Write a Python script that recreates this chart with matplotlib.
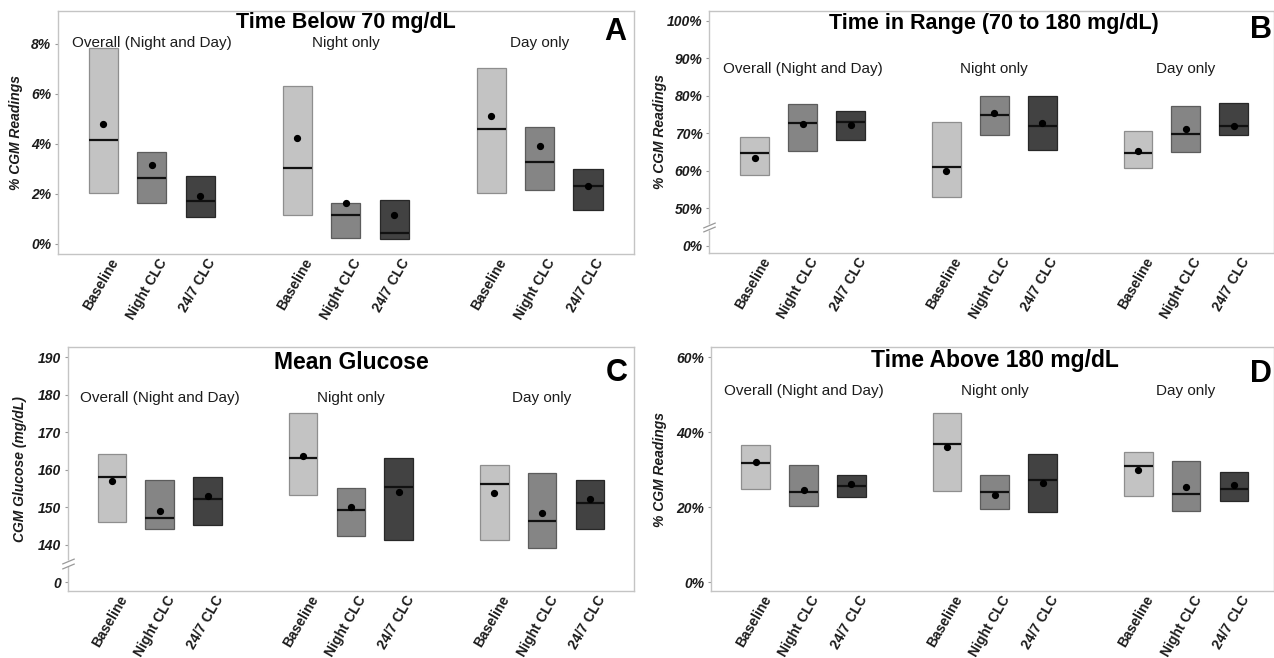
import matplotlib
matplotlib.use("Agg")
import matplotlib.pyplot as plt
from matplotlib import transforms
from matplotlib.path import Path

plt.rcParams['font.family'] = ['Liberation Sans', 'DejaVu Sans']

# ---------------- data ----------------
groups = ["Overall (Night and Day)", "Night only", "Day only"]
conditions = ["Baseline", "Night CLC", "24/7 CLC"]

# Panel A: Time below 70 mg/dL (%)
a_lower = [2.02, 1.65, 1.09, 1.16, 0.25, 0.21, 2.05, 2.14, 1.36]
a_upper = [7.84, 3.66, 2.72, 6.31, 1.62, 1.74, 7.03, 4.67, 3.00]
a_median = [4.14, 2.64, 1.70, 3.05, 1.15, 0.45, 4.61, 3.28, 2.33]
a_mean = [4.81, 3.16, 1.92, 4.22, 1.62, 1.15, 5.11, 3.91, 2.30]
a_yticks = [0, 2, 4, 6, 8]
a_yticklabels = ["0%", "2%", "4%", "6%", "8%"]

# Panel B: Time in range 70-180 mg/dL (%)
b_lower = [58.8, 65.2, 68.1, 53.1, 69.4, 65.6, 60.7, 65.0, 69.4]
b_upper = [69.1, 77.7, 75.9, 73.1, 79.8, 79.8, 70.6, 77.2, 78.0]
b_median = [64.7, 72.8, 72.9, 60.9, 74.9, 71.8, 64.7, 69.7, 71.9]
b_mean = [63.4, 72.5, 72.3, 59.9, 75.3, 72.8, 65.2, 71.0, 72.0]
b_yticks = [40, 50, 60, 70, 80, 90, 100]
b_yticklabels = ["0%", "50%", "60%", "70%", "80%", "90%", "100%"]

# Panel C: Mean glucose (mg/dL)
c_lower = [146.1, 144.1, 145.2, 153.2, 142.2, 141.2, 141.2, 139.1, 144.2]
c_upper = [164.2, 157.2, 158.1, 175.2, 155.1, 163.2, 161.3, 159.2, 157.1]
c_median = [158.1, 147.2, 152.1, 163.2, 149.2, 155.3, 156.1, 146.2, 151.1]
c_mean = [157.0, 148.9, 152.9, 163.5, 150.1, 153.9, 153.8, 148.4, 152.2]
c_yticks = [130, 140, 150, 160, 170, 180, 190]
c_yticklabels = ["0", "140", "150", "160", "170", "180", "190"]

# Panel D: Time above 180 mg/dL (%)
d_lower = [24.7, 20.4, 22.6, 24.2, 19.4, 18.8, 22.9, 19.0, 21.6]
d_upper = [36.6, 31.1, 28.5, 45.2, 28.5, 34.2, 34.8, 32.4, 29.4]
d_median = [31.7, 23.9, 25.5, 36.8, 24.0, 27.3, 30.9, 23.6, 24.7]
d_mean = [31.9, 24.6, 26.1, 36.0, 23.3, 26.3, 30.0, 25.4, 26.0]
d_yticks = [0, 20, 40, 60]
d_yticklabels = ["0%", "20%", "40%", "60%"]

fills = ['#c3c3c3', '#858585', '#424242']
edges = ['#8e8e8e', '#5c5c5c', '#282828']
txt = '#1c1c1c'

panels = [
    dict(rect=[0.0453, 0.614, 0.4524, 0.370], lower=a_lower, upper=a_upper,
         median=a_median, mean=a_mean, yticks=a_yticks, ytl=a_yticklabels,
         ylim=(-0.4, 9.33), xlim=(-0.94, 10.95), ylabel="% CGM Readings",
         ylx=-0.061, title="Time Below 70 mg/dL", ty=0.928, ts=15.5,
         letter="A", ly=0.877, gy=0.852, brk=False),
    dict(rect=[0.5565, 0.6155, 0.4435, 0.3683], lower=b_lower, upper=b_upper,
         median=b_median, mean=b_mean, yticks=b_yticks, ytl=b_yticklabels,
         ylim=(38.05, 102.67), xlim=(-0.955, 10.84), ylabel="% CGM Readings",
         ylx=-0.0746, title="Time in Range (70 to 180 mg/dL)", ty=0.923, ts=15.5,
         letter="B", ly=0.886, gy=0.742, brk=True),
    dict(rect=[0.0534, 0.1018, 0.4443, 0.3708], lower=c_lower, upper=c_upper,
         median=c_median, mean=c_mean, yticks=c_yticks, ytl=c_yticklabels,
         ylim=(127.6, 192.67), xlim=(-0.92, 10.925), ylabel="CGM Glucose (mg/dL)",
         ylx=-0.0733, title="Mean Glucose", ty=0.909, ts=16.5,
         letter="C", ly=0.86, gy=0.775, brk=True),
    dict(rect=[0.558, 0.1018, 0.442, 0.3708], lower=d_lower, upper=d_upper,
         median=d_median, mean=d_mean, yticks=d_yticks, ytl=d_yticklabels,
         ylim=(-2.4, 62.67), xlim=(-0.94, 10.84), ylabel="% CGM Readings",
         ylx=-0.0774, title="Time Above 180 mg/dL", ty=0.919, ts=16.5,
         letter="D", ly=0.858, gy=0.803, brk=False),
]

fig = plt.figure(figsize=(12.74, 6.58), dpi=100)

positions = [g * 4 + c for g in range(len(groups)) for c in range(len(conditions))]
cond_idx = [c for g in range(len(groups)) for c in range(len(conditions))]
group_centers = [g * 4 + (len(conditions) - 1) / 2 for g in range(len(groups))]
labels = [conditions[c] for c in cond_idx]
bw = 0.6

slash = Path([(-1.0, -0.42), (1.0, 0.42)], [Path.MOVETO, Path.LINETO])

for p in panels:
    ax = fig.add_axes(p['rect'])
    heights = [u - l for u, l in zip(p['upper'], p['lower'])]
    ax.bar(positions, heights, bottom=p['lower'], width=bw,
           color=[fills[c] for c in cond_idx], edgecolor=[edges[c] for c in cond_idx],
           linewidth=0.9, zorder=2)
    ax.hlines(p['median'], [x - bw / 2 for x in positions], [x + bw / 2 for x in positions],
              colors='#111111', linewidth=1.6, zorder=3)
    ax.plot(positions, p['mean'], 'o', color='black', markersize=4.2, zorder=4)

    ax.set_xlim(*p['xlim'])
    ax.set_ylim(*p['ylim'])
    ax.set_yticks(p['yticks'])
    ax.set_yticklabels(p['ytl'], fontsize=10, fontweight='bold', fontstyle='italic', color=txt)
    ax.set_xticks(positions)
    ax.set_xticklabels([])
    ax.tick_params(axis='x', length=0)
    ax.tick_params(axis='y', length=2.2, width=0.8, color='#9a9a9a', pad=2.5)
    for s in ax.spines.values():
        s.set_color('#c4c4c4')
        s.set_linewidth(1.0)

    # rotated category labels (ggplot-style placement)
    bt = transforms.blended_transform_factory(ax.transData, ax.transAxes)
    lab_t = bt + transforms.ScaledTranslation(0.123, -0.06, fig.dpi_scale_trans)
    for x, lab in zip(positions, labels):
        ax.text(x, 0, lab, transform=lab_t, rotation=60, rotation_mode='anchor',
                ha='right', va='center', fontsize=10, fontweight='bold', color=txt,
                clip_on=False)

    ax.set_ylabel(p['ylabel'], fontsize=10, fontweight='bold', fontstyle='italic', color=txt)
    ax.yaxis.set_label_coords(p['ylx'], 0.5)

    ax.text(group_centers[1], p['ty'], p['title'], transform=bt, ha='center', va='baseline',
            fontsize=p['ts'], fontweight='bold', color='black')
    ax.text(positions[-1] + 0.34, p['ly'], p['letter'], transform=bt, ha='left',
            va='baseline', fontsize=22, fontweight='bold', color='black', clip_on=False)
    for gc, g in zip(group_centers, groups):
        ax.text(gc, p['gy'], g, transform=bt, ha='center', va='baseline',
                fontsize=11, color=txt)

    if p['brk']:
        yt = p['yticks']
        yb = (yt[0] + yt[1]) / 2
        step = yt[1] - yt[0]
        lt = transforms.blended_transform_factory(ax.transAxes, ax.transData)
        ax.plot([0], [yb], marker='|', markersize=4, markeredgewidth=2.5, color='white',
                transform=lt, clip_on=False, zorder=6)
        for off in (-0.06 * step, 0.06 * step):
            ax.plot([0], [yb + off], marker=slash, markersize=9, markeredgewidth=0.9,
                    color='#9a9a9a', transform=lt, clip_on=False, zorder=7)

fig.savefig("out.png", dpi=100)
